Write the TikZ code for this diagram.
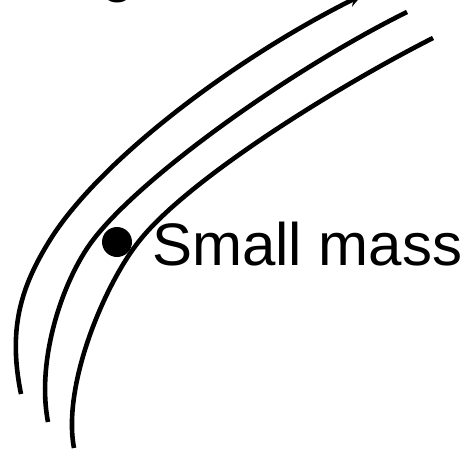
\documentclass[tikz,border=0pt]{standalone}
\usepackage{fontspec}
\setmainfont{Liberation Sans}
\usetikzlibrary{arrows.meta}
\begin{document}
\begin{tikzpicture}[x=1pt,y=-1pt,
  orbit/.style={line width=4.6pt,line cap=butt},
  lbl/.style={inner sep=0pt,anchor=base west,font=\fontsize{60}{72}\selectfont}]
\useasboundingbox (0,0) rectangle (471,450);
\clip (0,0) rectangle (471,450);
\coordinate (a0) at (21,394);
\coordinate (a1) at (50,240);
\coordinate (a2) at (362,-5);
\coordinate (b0) at (48,422);
\coordinate (b1) at (93,240);
\coordinate (b2) at (407,12);
\coordinate (c0) at (74,448);
\coordinate (c1) at (140,240);
\coordinate (c2) at (433,38);
\draw[orbit,-{Stealth[length=14pt,width=12pt]}] (a0) .. controls (8,330) and (20,288) .. (a1)
  .. controls (100,160) and (235,58) .. (a2);
\draw[orbit] (b0) .. controls (36,360) and (62.5,280) .. (b1)
  .. controls (142,176) and (290,70) .. (b2);
\draw[orbit] (c0) .. controls (62,385) and (105,283) .. (c1)
  .. controls (190,177.6) and (340,85) .. (c2);
\node[lbl] (top) at (101,-10) {g};
\fill (117,242) circle (15pt) coordinate (mass);
\node[lbl] (small) at (152,265) {Small mass};
\end{tikzpicture}
\end{document}
